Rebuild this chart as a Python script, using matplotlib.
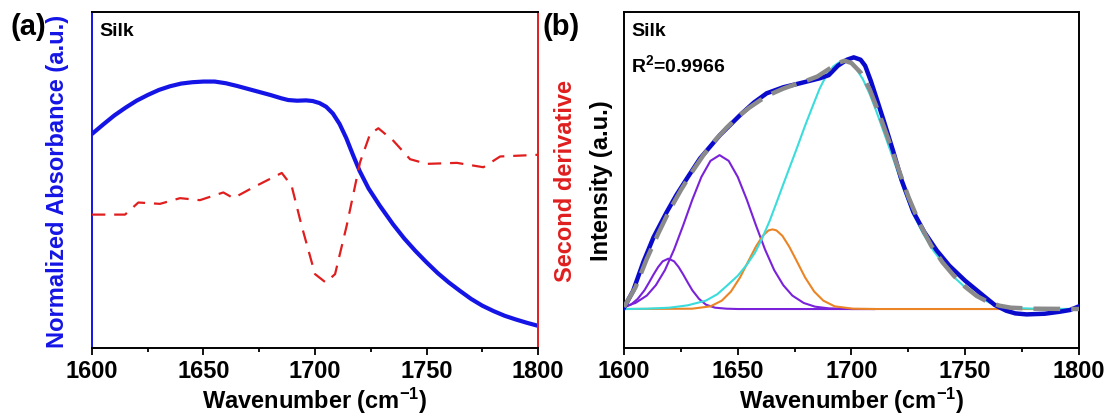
"""
Silk FTIR amide I: (a) absorbance + second derivative, (b) peak fitting
"""

import matplotlib
matplotlib.use('Agg')
import matplotlib.pyplot as plt
from matplotlib.ticker import MultipleLocator

plt.rcParams['font.family'] = ['Liberation Sans', 'DejaVu Sans']
plt.rcParams['font.weight'] = 'bold'
plt.rcParams['mathtext.fontset'] = 'custom'
plt.rcParams['mathtext.rm'] = 'Liberation Sans:bold'
plt.rcParams['mathtext.bf'] = 'Liberation Sans:bold'
plt.rcParams['mathtext.default'] = 'bf'

# ---- panel (a) data (normalized) ----
abs_wn = [1600, 1605, 1610, 1615, 1620, 1625, 1630, 1635, 1640, 1645, 1650,
          1655, 1660, 1665, 1670, 1675, 1680, 1685, 1688, 1692, 1696, 1699,
          1702, 1705, 1708, 1711, 1714, 1717, 1720, 1724, 1729, 1735, 1740,
          1745, 1750, 1755, 1760, 1765, 1770, 1775, 1780, 1785, 1790, 1795,
          1800]
abs_val = [0.637, 0.665, 0.692, 0.715, 0.736, 0.753, 0.768, 0.779, 0.787,
           0.791, 0.793, 0.793, 0.788, 0.780, 0.771, 0.762, 0.753, 0.743,
           0.738, 0.736, 0.737, 0.735, 0.729, 0.718, 0.698, 0.667, 0.625,
           0.575, 0.527, 0.475, 0.424, 0.368, 0.326, 0.289, 0.255, 0.223,
           0.195, 0.170, 0.146, 0.126, 0.110, 0.096, 0.085, 0.075, 0.066]

d2_wn = [1600, 1614.8, 1620.8, 1630.5, 1639.5, 1648.4, 1658.9, 1663.4,
         1672.3, 1685.1, 1689.5, 1694, 1700, 1704.8, 1709, 1714.2, 1720.2,
         1724.7, 1728.4, 1735.1, 1742.6, 1750.1, 1763.6, 1775.5, 1783, 1800]
d2_val = [0.397, 0.397, 0.433, 0.429, 0.446, 0.440, 0.463, 0.446,
          0.478, 0.521, 0.483, 0.364, 0.220, 0.195, 0.220, 0.364, 0.553,
          0.637, 0.654, 0.617, 0.562, 0.548, 0.551, 0.538, 0.570, 0.575]

# ---- panel (b) data ----
raw_wn = [1600, 1604, 1608.5, 1613, 1618.8, 1623, 1627.6, 1633.4, 1642.2,
          1651, 1657, 1662.7, 1670, 1677.4, 1686.2, 1690, 1694, 1698, 1701,
          1704, 1706, 1708.5, 1711, 1714, 1718.4, 1722, 1727.2, 1732, 1737.5,
          1743, 1750, 1757.9, 1763, 1768, 1772, 1777, 1785, 1791.6, 1796, 1800]
raw_val = [0.120, 0.170, 0.256, 0.330, 0.405, 0.455, 0.504, 0.564, 0.634,
           0.693, 0.730, 0.758, 0.776, 0.788, 0.803, 0.812, 0.840, 0.858, 0.865,
           0.858, 0.840, 0.795, 0.743, 0.680, 0.584, 0.500, 0.405, 0.345, 0.290,
           0.245, 0.200, 0.156, 0.128, 0.111, 0.103, 0.100, 0.102, 0.108, 0.113,
           0.124]

fit_wn = [1600, 1605, 1610, 1615, 1620, 1625, 1630, 1635, 1640, 1645, 1650,
          1655, 1660, 1665, 1670, 1675, 1680, 1685, 1690, 1694, 1697, 1700,
          1704, 1708, 1712, 1716, 1720, 1725, 1730, 1735, 1740, 1745, 1750,
          1755, 1760, 1765, 1770, 1780, 1800]
fit_val = [0.122, 0.180, 0.265, 0.340, 0.410, 0.470, 0.525, 0.575, 0.618,
           0.655, 0.688, 0.715, 0.738, 0.757, 0.772, 0.784, 0.795, 0.808,
           0.830, 0.848, 0.855, 0.848, 0.820, 0.770, 0.700, 0.625, 0.545,
           0.450, 0.370, 0.305, 0.255, 0.215, 0.182, 0.155, 0.137, 0.126,
           0.120, 0.117, 0.116]

p1_wn = [1600, 1603, 1606, 1609, 1611, 1613, 1615, 1617, 1619.5, 1622, 1624,
         1626, 1628, 1630, 1633, 1636, 1640, 1645, 1650, 1710]
p1_val = [0.121, 0.129, 0.146, 0.172, 0.195, 0.219, 0.241, 0.258, 0.266,
          0.258, 0.241, 0.219, 0.195, 0.172, 0.146, 0.129, 0.120, 0.117,
          0.116, 0.116]

p2_wn = [1600, 1605, 1610, 1614, 1618, 1622, 1626, 1630, 1634, 1638, 1642,
         1646, 1650, 1654, 1658, 1662, 1666, 1670, 1674, 1679, 1684, 1690,
         1700, 1710]
p2_val = [0.123, 0.134, 0.156, 0.187, 0.232, 0.293, 0.365, 0.441, 0.509,
          0.557, 0.574, 0.557, 0.509, 0.441, 0.365, 0.293, 0.232, 0.187,
          0.156, 0.134, 0.123, 0.118, 0.116, 0.116]

p3_wn = [1600, 1630, 1638, 1643, 1647, 1651, 1655, 1658, 1661, 1663.5,
         1665.3, 1667, 1669.6, 1672.6, 1675.6, 1679.6, 1683.6, 1687.6,
         1692.6, 1700.6, 1710, 1800]
p3_val = [0.116, 0.117, 0.124, 0.141, 0.168, 0.210, 0.263, 0.302, 0.334,
          0.350, 0.353, 0.350, 0.334, 0.302, 0.263, 0.210, 0.168, 0.141,
          0.124, 0.117, 0.116, 0.116]

p4_wn = [1600, 1610, 1620, 1628, 1636, 1641, 1645, 1650, 1654, 1657.5,
         1660.5, 1664, 1667, 1670, 1673, 1676, 1679.5, 1683, 1686, 1689,
         1692, 1694.5, 1697, 1699.5, 1702, 1705, 1708, 1711, 1714.5, 1718.5,
         1722.5, 1727, 1731.5, 1736, 1741, 1746, 1751, 1756, 1761, 1766,
         1772, 1780, 1800]
p4_val = [0.116, 0.117, 0.120, 0.127, 0.141, 0.160, 0.184, 0.215, 0.248,
          0.283, 0.323, 0.378, 0.432, 0.487, 0.541, 0.595, 0.660, 0.721,
          0.772, 0.812, 0.838, 0.850, 0.854, 0.848, 0.832, 0.800, 0.756,
          0.703, 0.637, 0.560, 0.481, 0.400, 0.340, 0.290, 0.245, 0.205,
          0.174, 0.151, 0.134, 0.125, 0.119, 0.117, 0.116]

xticks = [1600, 1650, 1700, 1750, 1800]

c_blue = '#1414E6'
c_red = '#E01E1E'
c_data_b = '#0A0ACC'
c_fit = '#8A8A8A'
c_purple = '#7A22DA'
c_orange = '#EB8424'
c_cyan = '#3ADCDC'

fig = plt.figure(figsize=(11.08, 4.14), dpi=100)
ax_a = fig.add_axes([0.0830, 0.157, 0.4026, 0.8116])
ax_b = fig.add_axes([0.5632, 0.157, 0.4106, 0.8116])


def style_x(ax):
    ax.set_xlim(1600, 1800)
    ax.set_ylim(0, 1)
    ax.set_xticks(xticks)
    ax.xaxis.set_minor_locator(MultipleLocator(25))
    ax.set_yticks([])
    ax.tick_params(axis='x', which='major', direction='out', length=5,
                   width=1.3, labelsize=17, pad=3)
    ax.tick_params(axis='x', which='minor', direction='out', length=3,
                   width=1.3)
    for lab in ax.get_xticklabels():
        lab.set_fontweight('bold')
    for s in ax.spines.values():
        s.set_linewidth(1.4)
    ax.set_xlabel('Wavenumber (cm$^{-1}$)', fontsize=17, fontweight='bold',
                  labelpad=2)


# ---- (a) ----
style_x(ax_a)
ax_a.plot(abs_wn, abs_val, color=c_blue, lw=3.0, solid_capstyle='round')
ax_a.spines['left'].set_color(c_blue)
ax_a.spines['right'].set_color(c_red)
ax_r = ax_a.twinx()
ax_r.set_ylim(0, 1)
ax_r.set_yticks([])
for s in ax_r.spines.values():
    s.set_visible(False)
ax_r.plot(d2_wn, d2_val, color=c_red, lw=1.6, dashes=(6, 4))

ax_a.text(0.016, 0.945, 'Silk', transform=ax_a.transAxes, fontsize=14,
          fontweight='bold', ha='left', va='center')
ax_a.text(-0.077, 0.5, 'Normalized Absorbance (a.u.)', transform=ax_a.transAxes,
          rotation=90, ha='center', va='center', fontsize=17,
          fontweight='bold', color=c_blue)
ax_a.text(1.062, 0.5, 'Second derivative', transform=ax_a.transAxes,
          rotation=90, ha='center', va='center', fontsize=17,
          fontweight='bold', color=c_red)

# ---- (b) ----
style_x(ax_b)
ax_b.plot(raw_wn, raw_val, color=c_data_b, lw=3.2, zorder=3)
ax_b.plot(p1_wn, p1_val, color=c_purple, lw=1.5, zorder=2)
ax_b.plot(p2_wn, p2_val, color=c_purple, lw=1.5, zorder=2)
ax_b.plot(p3_wn, p3_val, color=c_orange, lw=1.5, zorder=2)
ax_b.plot(p4_wn, p4_val, color=c_cyan, lw=1.5, zorder=2)
ax_b.plot(fit_wn, fit_val, color=c_fit, lw=3.2, dashes=(6, 2.5), zorder=4)

ax_b.text(0.016, 0.945, 'Silk', transform=ax_b.transAxes, fontsize=14,
          fontweight='bold', ha='left', va='center')
ax_b.text(0.016, 0.845, 'R$^{2}$=0.9966', transform=ax_b.transAxes,
          fontsize=14, fontweight='bold', ha='left', va='center')
ax_b.text(-0.05, 0.5, 'Intensity (a.u.)', transform=ax_b.transAxes,
          rotation=90, ha='center', va='center', fontsize=17,
          fontweight='bold', color='black')

fig.text(10 / 1108, 1 - 27 / 414, '(a)', fontsize=21, fontweight='bold',
         ha='left', va='center')
fig.text(543 / 1108, 1 - 27 / 414, '(b)', fontsize=21, fontweight='bold',
         ha='left', va='center')

fig.savefig('out.png', dpi=100)
